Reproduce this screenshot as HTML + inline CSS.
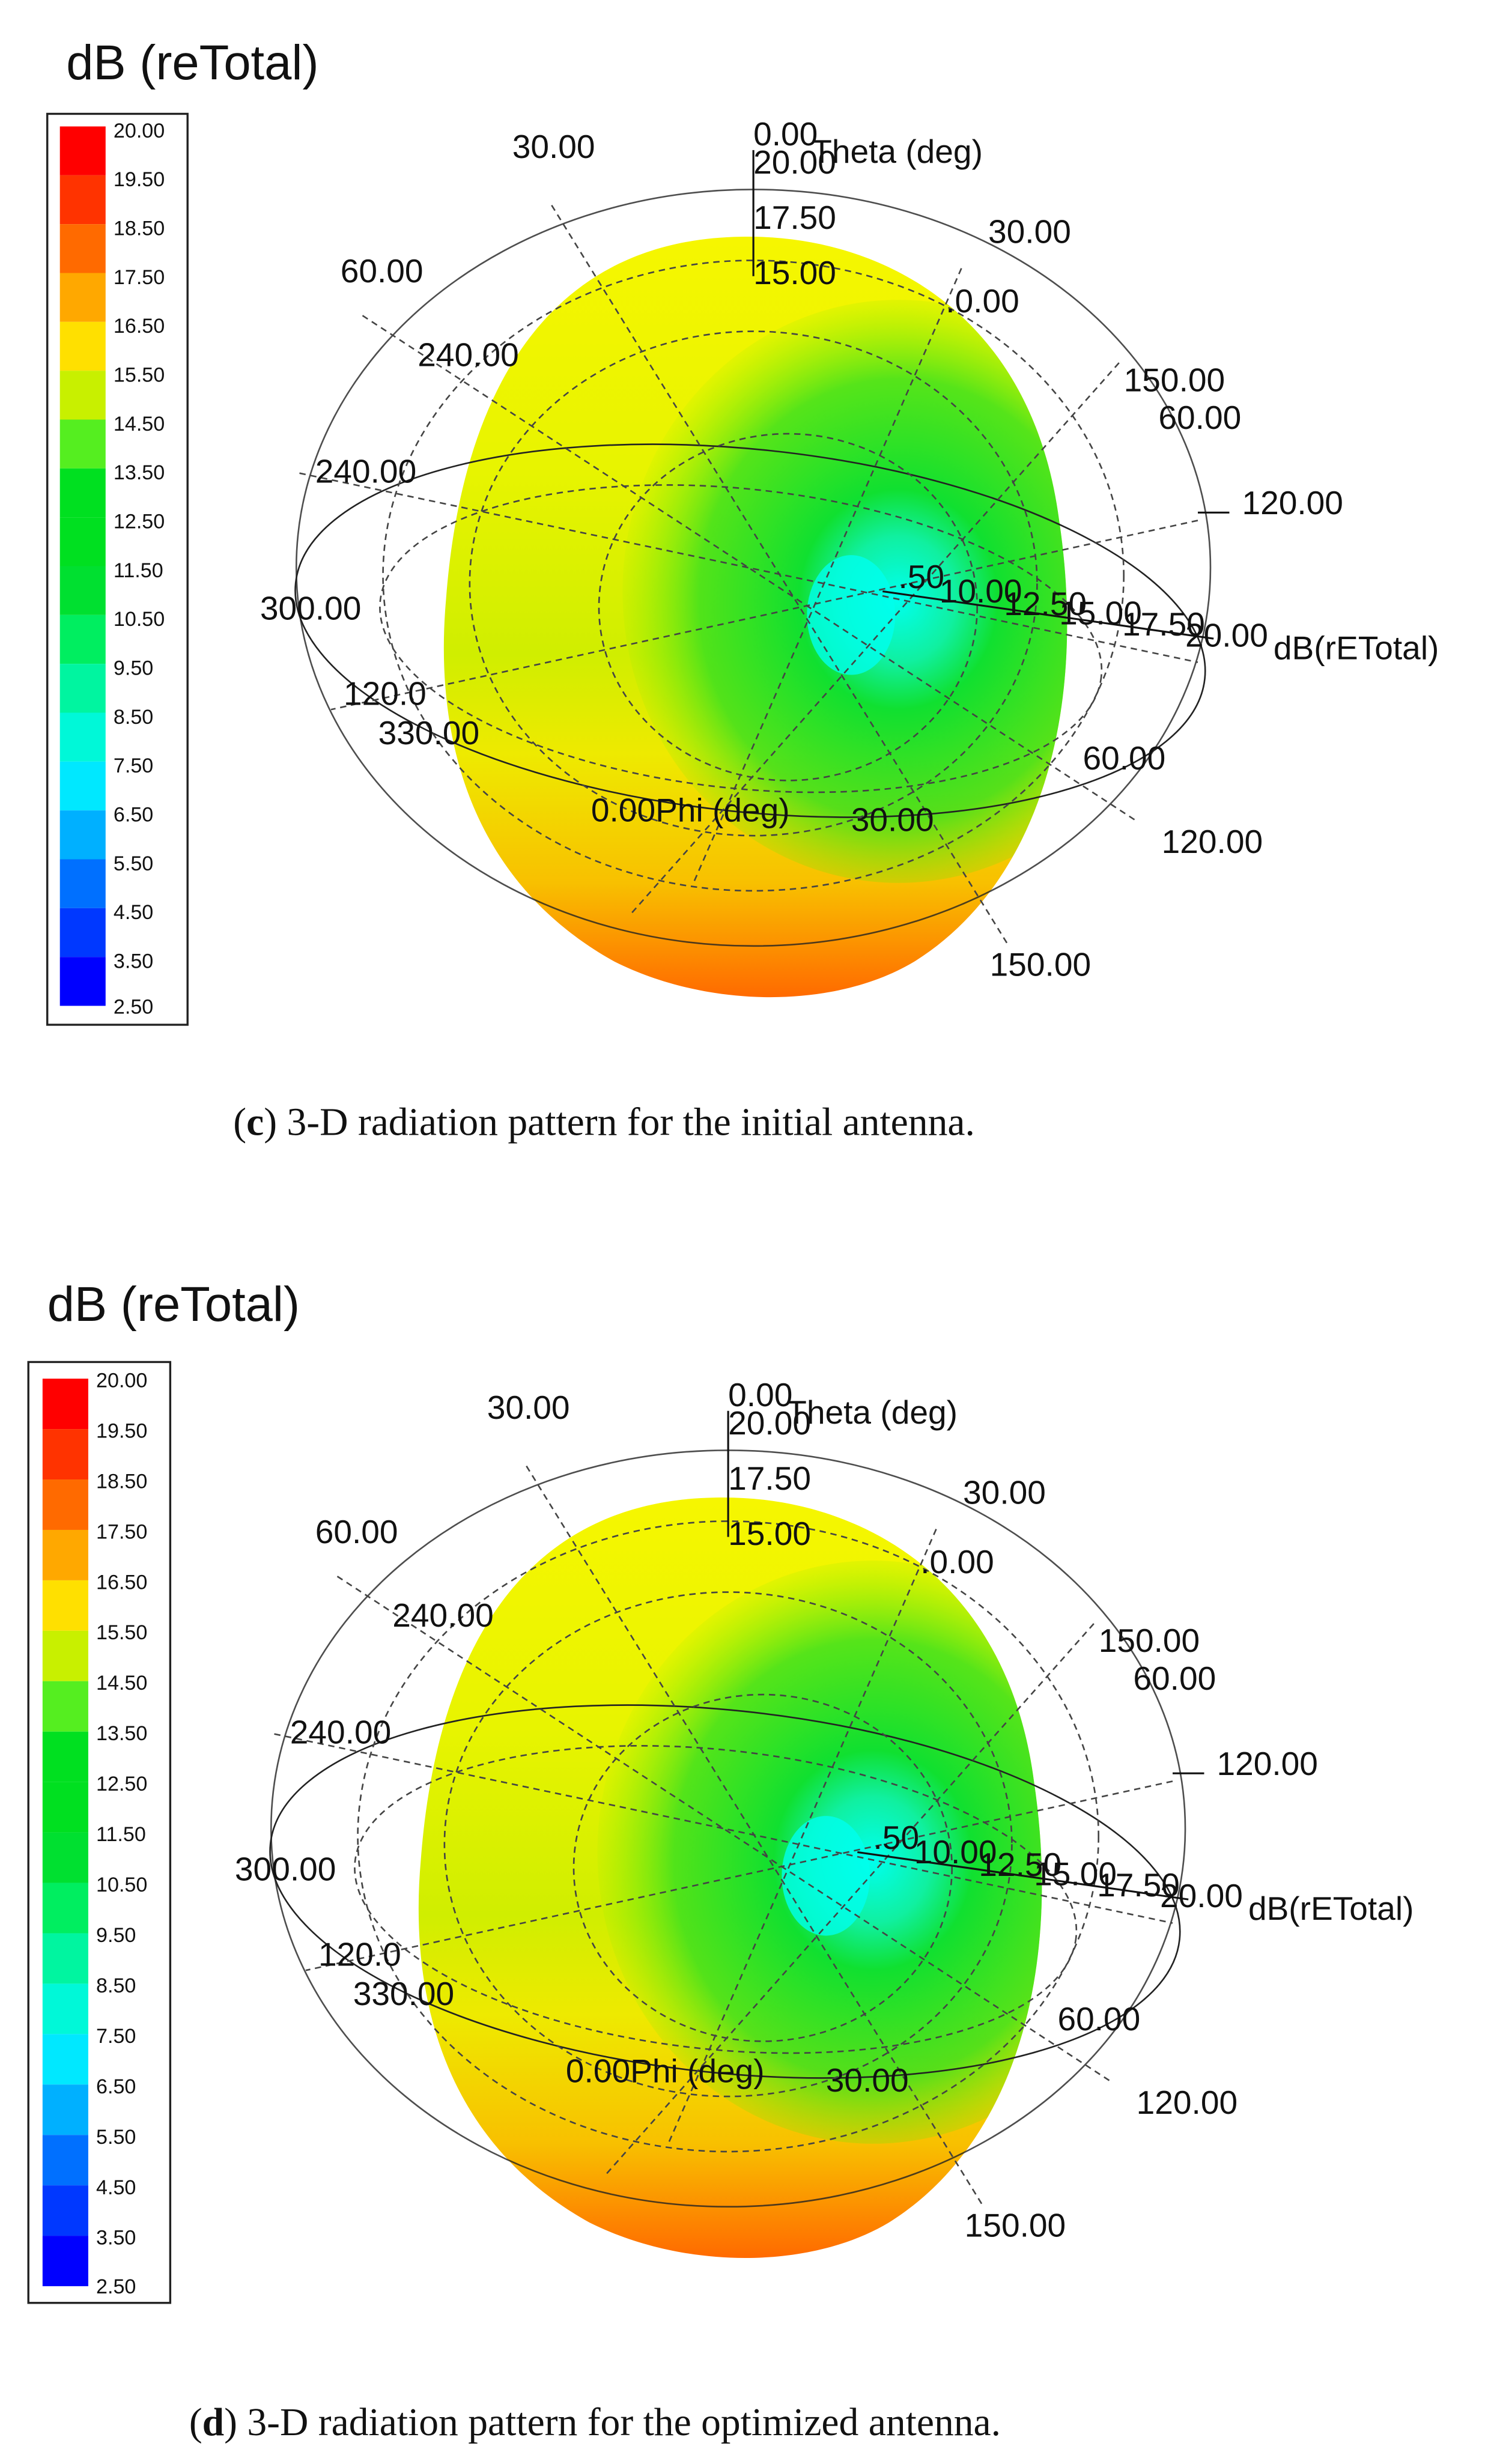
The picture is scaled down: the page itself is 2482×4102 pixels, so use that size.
<!DOCTYPE html>
<html><head><meta charset="utf-8"><style>
html,body{margin:0;padding:0;background:#fff;width:2482px;height:4102px;overflow:hidden}
svg{display:block}
.t{font-family:"Liberation Sans",Arial,sans-serif;fill:#111}
.cap{font-family:"Liberation Serif",serif;fill:#111;font-size:25px}
.cb{font-family:"Liberation Sans",sans-serif;font-size:13px;fill:#111}
</style></head><body>
<svg width="2482" height="4102" viewBox="0 0 946 1563" xmlns="http://www.w3.org/2000/svg">
<defs>
<linearGradient id="vg" x1="0" y1="0" x2="0" y2="1">
<stop offset="0" stop-color="#f6f600"/>
<stop offset="0.3" stop-color="#e8f400"/>
<stop offset="0.55" stop-color="#d0ee00"/>
<stop offset="0.68" stop-color="#eeea00"/>
<stop offset="0.85" stop-color="#f8c000"/>
<stop offset="1" stop-color="#ff6a00"/>
</linearGradient>
<radialGradient id="gg" cx="570" cy="380" r="190" gradientUnits="userSpaceOnUse" gradientTransform="translate(570 380) scale(0.95 1.05) translate(-570 -380)">
<stop offset="0" stop-color="#00ffee"/>
<stop offset="0.2" stop-color="#10f0a0"/>
<stop offset="0.35" stop-color="#10e030"/>
<stop offset="0.7" stop-color="#30e020" stop-opacity="0.8"/>
<stop offset="1" stop-color="#80f000" stop-opacity="0"/>
</radialGradient>
<clipPath id="egg"><path d="M470,150 C560,148 655,200 672,330 C690,450 660,560 580,610 C530,640 450,640 390,610 C300,560 275,470 283,380 C292,260 340,152 470,150 Z"/></clipPath>
<g id="globe">
<path d="M470,150 C560,148 655,200 672,330 C690,450 660,560 580,610 C530,640 450,640 390,610 C300,560 275,470 283,380 C292,260 340,152 470,150 Z" fill="url(#vg)"/>
<g clip-path="url(#egg)">
<ellipse cx="570" cy="375" rx="175" ry="185" fill="url(#gg)"/>
<ellipse cx="540" cy="390" rx="28" ry="38" fill="#00ffee" opacity="0.8"/>
</g>
<g fill="none" stroke="#222" stroke-width="1">
<ellipse cx="478" cy="360" rx="290" ry="240" opacity="0.8"/>
<ellipse cx="476" cy="400" rx="290" ry="115" transform="rotate(6 476 400)"/>
</g>
<g fill="none" stroke="#444" stroke-width="1" stroke-dasharray="4,3">
<ellipse cx="478" cy="365" rx="235" ry="200"/>
<ellipse cx="478" cy="370" rx="180" ry="160"/>
<ellipse cx="500" cy="385" rx="120" ry="110"/>
<ellipse cx="470" cy="405" rx="230" ry="95" transform="rotate(6 470 405)"/>
<line x1="350" y1="130" x2="640" y2="600"/>
<line x1="230" y1="200" x2="720" y2="520"/>
<line x1="190" y1="300" x2="760" y2="420"/>
<line x1="610" y1="170" x2="440" y2="560"/>
<line x1="710" y1="230" x2="400" y2="580"/>
<line x1="760" y1="330" x2="210" y2="450"/>
</g>
<g stroke="#111" stroke-width="1.2" fill="none">
<polyline points="478,95 478,175"/>
<line x1="560" y1="375" x2="770" y2="405"/>
<line x1="760" y1="325" x2="780" y2="325"/>
</g>
<g class="t" font-size="21">
<text x="325" y="100">30.00</text>
<text x="478" y="92">0.00</text>
<text x="515" y="103">Theta (deg)</text>
<text x="478" y="110">20.00</text>
<text x="478" y="145">17.50</text>
<text x="627" y="154">30.00</text>
<text x="478" y="180">15.00</text>
<text x="216" y="179">60.00</text>
<text x="600" y="198">.0.00</text>
<text x="265" y="232">240.00</text>
<text x="713" y="248">150.00</text>
<text x="735" y="272">60.00</text>
<text x="200" y="306">240.00</text>
<text x="788" y="326">120.00</text>
<text x="165" y="393">300.00</text>
<text x="570" y="373">.50</text>
<text x="596" y="382">10.00</text>
<text x="637" y="390">12.50</text>
<text x="672" y="396">15.00</text>
<text x="712" y="403">17.50</text>
<text x="752" y="410">20.00</text>
<text x="808" y="418">dB(rETotal)</text>
<text x="218" y="447">120.0</text>
<text x="240" y="472">330.00</text>
<text x="375" y="521">0.00Phi (deg)</text>
<text x="540" y="527">30.00</text>
<text x="687" y="488">60.00</text>
<text x="737" y="541">120.00</text>
<text x="628" y="619">150.00</text>
</g>
</g>
</defs>

<text class="t" x="42" y="50" font-size="31">dB (reTotal)</text>
<rect x="30" y="72" width="89" height="578" fill="#fff" stroke="#222" stroke-width="1.3"/>
<g id="bars">
<rect x="38" y="80" width="29" height="31" fill="#ff0000"/>
<rect x="38" y="111" width="29" height="31" fill="#ff3300"/>
<rect x="38" y="142" width="29" height="31" fill="#ff6a00"/>
<rect x="38" y="173" width="29" height="31" fill="#ffa800"/>
<rect x="38" y="204" width="29" height="31" fill="#ffe000"/>
<rect x="38" y="235" width="29" height="31" fill="#c8f000"/>
<rect x="38" y="266" width="29" height="31" fill="#55ee20"/>
<rect x="38" y="297" width="29" height="31" fill="#00e020"/>
<rect x="38" y="328" width="29" height="31" fill="#00e020"/>
<rect x="38" y="359" width="29" height="31" fill="#00e030"/>
<rect x="38" y="390" width="29" height="31" fill="#00ee60"/>
<rect x="38" y="421" width="29" height="31" fill="#00f5a0"/>
<rect x="38" y="452" width="29" height="31" fill="#00f8d8"/>
<rect x="38" y="483" width="29" height="31" fill="#00e8ff"/>
<rect x="38" y="514" width="29" height="31" fill="#00b0ff"/>
<rect x="38" y="545" width="29" height="31" fill="#0070ff"/>
<rect x="38" y="576" width="29" height="31" fill="#0038ff"/>
<rect x="38" y="607" width="29" height="31" fill="#0000ff"/>
</g>
<g class="cb">
<text x="72" y="87">20.00</text><text x="72" y="118">19.50</text><text x="72" y="149">18.50</text><text x="72" y="180">17.50</text><text x="72" y="211">16.50</text><text x="72" y="242">15.50</text><text x="72" y="273">14.50</text><text x="72" y="304">13.50</text><text x="72" y="335">12.50</text><text x="72" y="366">11.50</text><text x="72" y="397">10.50</text><text x="72" y="428">9.50</text><text x="72" y="459">8.50</text><text x="72" y="490">7.50</text><text x="72" y="521">6.50</text><text x="72" y="552">5.50</text><text x="72" y="583">4.50</text><text x="72" y="614">3.50</text><text x="72" y="643">2.50</text>
</g>
<use href="#globe"/>
<text class="cap" x="148" y="720">(<tspan font-weight="bold">c</tspan>) 3-D radiation pattern for the initial antenna.</text>

<text class="t" x="30" y="838" font-size="31">dB (reTotal)</text>
<rect x="18" y="864" width="90" height="597" fill="#fff" stroke="#222" stroke-width="1.3"/>
<use href="#bars" transform="translate(-11 792) scale(1 1.032)"/>
<g class="cb">
<text x="61" y="880">20.00</text><text x="61" y="912">19.50</text><text x="61" y="944">18.50</text><text x="61" y="976">17.50</text><text x="61" y="1008">16.50</text><text x="61" y="1040">15.50</text><text x="61" y="1072">14.50</text><text x="61" y="1104">13.50</text><text x="61" y="1136">12.50</text><text x="61" y="1168">11.50</text><text x="61" y="1200">10.50</text><text x="61" y="1232">9.50</text><text x="61" y="1264">8.50</text><text x="61" y="1296">7.50</text><text x="61" y="1328">6.50</text><text x="61" y="1360">5.50</text><text x="61" y="1392">4.50</text><text x="61" y="1424">3.50</text><text x="61" y="1455">2.50</text>
</g>
<use href="#globe" transform="translate(-16 800)"/>
<text class="cap" x="120" y="1545">(<tspan font-weight="bold">d</tspan>) 3-D radiation pattern for the optimized antenna.</text>
</svg>
</body></html>
